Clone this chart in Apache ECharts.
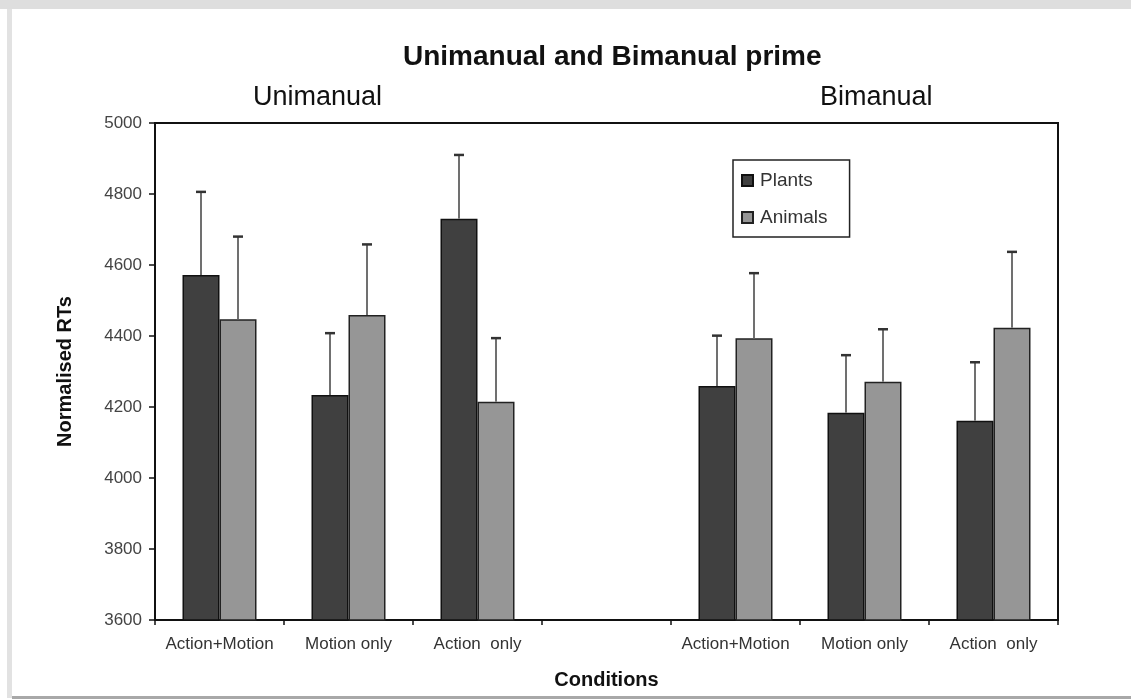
<!DOCTYPE html>
<html>
<head>
<meta charset="utf-8">
<script src="https://cdn.jsdelivr.net/npm/echarts@6/dist/echarts.min.js"></script>
<style>
html,body{margin:0;padding:0;background:#fff;}
#c{width:1131px;height:699px;}
</style>
</head>
<body>
<div id="c"></div>
<script>
const categories = ['Action+Motion', 'Motion only', 'Action  only', '', 'Action+Motion', 'Motion only', 'Action  only'];
const plants = [4572, 4234, 4730, '-', 4259, 4184, 4161];
const animals = [4447, 4459, 4215, '-', 4394, 4271, 4423];
const plantsUpper = [4806, 4408, 4910, '-', 4401, 4346, 4326];
const animalsUpper = [4680, 4658, 4394, '-', 4577, 4419, 4637];
const yTicks = { min: 3600, max: 5000, interval: 200 };

const FONT = "'Liberation Sans', Arial, sans-serif";
const BAR_W = 37;

function errSeries(name, vals, uppers, offset) {
  const data = vals.map((v, i) => [i, v, uppers[i]]).filter(d => d[1] !== '-');
  return {
    type: 'custom',
    name: name + '_err',
    data: data,
    z: 5,
    silent: true,
    renderItem: function (params, api) {
      const i = api.value(0);
      const lo = api.coord([i, api.value(1)]);
      const hi = api.coord([i, api.value(2)]);
      const x = lo[0] + offset;
      return {
        type: 'group',
        children: [
          { type: 'line', shape: { x1: x, y1: lo[1], x2: x, y2: hi[1] }, style: { stroke: '#707070', lineWidth: 2 } },
          { type: 'line', shape: { x1: x - 5, y1: hi[1], x2: x + 5, y2: hi[1] }, style: { stroke: '#333', lineWidth: 2.5 } }
        ]
      };
    }
  };
}

const chart = echarts.init(document.getElementById('c'));
chart.setOption({
  animation: false,
  backgroundColor: '#ffffff',
  grid: { left: 155, right: 73, top: 123, bottom: 79, show: true, borderColor: '#111', borderWidth: 2, backgroundColor: 'transparent' },
  legend: {
    data: ['Plants', 'Animals'],
    orient: 'vertical',
    left: 733, top: 160,
    padding: [11, 22, 10, 8],
    itemWidth: 11, itemHeight: 11, itemGap: 18,
    borderColor: '#222', borderWidth: 1.5,
    backgroundColor: '#fff',
    icon: 'rect',
    textStyle: { fontFamily: FONT, fontSize: 19, color: '#333', padding: [0, 0, 0, 2] }
  },
  xAxis: {
    type: 'category',
    data: categories,
    name: 'Conditions',
    nameLocation: 'middle',
    nameGap: 50,
    nameTextStyle: { fontFamily: FONT, fontSize: 20, fontWeight: 'bold', color: '#111' },
    axisLine: { lineStyle: { color: '#111', width: 2 } },
    axisTick: { show: true, interval: 0, length: 5, lineStyle: { color: '#111', width: 1.5 } },
    axisLabel: { interval: 0, margin: 16, fontFamily: FONT, fontSize: 17, color: '#333' }
  },
  yAxis: {
    type: 'value',
    min: yTicks.min, max: yTicks.max, interval: yTicks.interval,
    name: 'Normalised RTs',
    nameLocation: 'middle',
    nameGap: 80,
    nameTextStyle: { fontFamily: FONT, fontSize: 20, fontWeight: 'bold', color: '#111' },
    axisLine: { show: true, lineStyle: { color: '#111', width: 2 } },
    axisTick: { show: true, length: 6, lineStyle: { color: '#111', width: 1.5 } },
    splitLine: { show: false },
    axisLabel: { margin: 13, fontFamily: FONT, fontSize: 17, color: '#444', formatter: v => String(v) }
  },
  series: [
    { type: 'bar', name: 'Plants', data: plants, barWidth: BAR_W, barGap: '0%', z: 3,
      itemStyle: { color: '#404040', borderColor: '#111', borderWidth: 1.5 } },
    { type: 'bar', name: 'Animals', data: animals, barWidth: BAR_W, barGap: '0%', z: 3,
      itemStyle: { color: '#969696', borderColor: '#222', borderWidth: 1.5 } },
    errSeries('Plants', plants, plantsUpper, -BAR_W / 2),
    errSeries('Animals', animals, animalsUpper, BAR_W / 2)
  ],
  graphic: [
    { type: 'rect', shape: { x: 0, y: 0, width: 1131, height: 9 }, style: { fill: '#dedede' }, silent: true },
    { type: 'rect', shape: { x: 7, y: 9, width: 5, height: 689 }, style: { fill: '#e2e2e2' }, silent: true },
    { type: 'rect', shape: { x: 12, y: 696, width: 1119, height: 3 }, style: { fill: '#a8a8a8' }, silent: true },
    { type: 'text', left: 403, top: 43, style: { text: 'Unimanual and Bimanual prime', font: "bold 28px " + FONT, fill: '#111' } },
    { type: 'text', left: 253, top: 84, style: { text: 'Unimanual', font: "27px " + FONT, fill: '#111' } },
    { type: 'text', left: 820, top: 84, style: { text: 'Bimanual', font: "27px " + FONT, fill: '#111' } }
  ]
});
</script>
</body>
</html>
